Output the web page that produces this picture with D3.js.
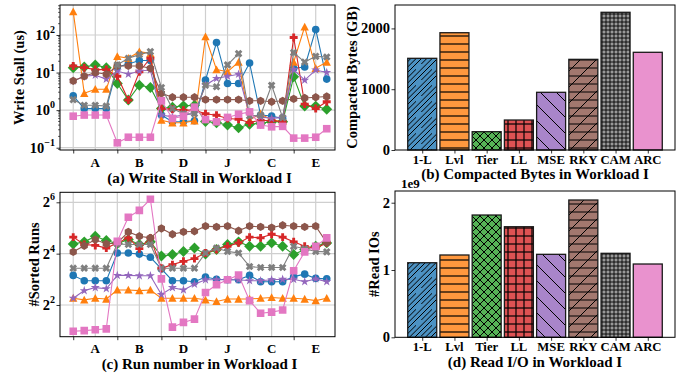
<!DOCTYPE html>
<html><head><meta charset="utf-8">
<script src="https://cdn.jsdelivr.net/npm/d3@7"></script>
<style>
body{margin:0;background:#fff}
text{font-family:"Liberation Serif","Times New Roman",serif;font-weight:bold;fill:#000}
</style>
</head><body>
<svg id="chart" width="679" height="377"></svg>
<script>
// ---------------- DATA ----------------
const workloads = ["A","B","D","J","C","E"];
const policies = ["1-L","Lvl","Tier","LL","MSE","RKY","CAM","ARC"];
const lineColors = ["#1f77b4","#ff7f0e","#2ca02c","#d62728","#9467bd","#8c564b","#7f7f7f","#e377c2"];
const barColors  = ["#4c92c3","#ff983e","#56b356","#de5253","#a985ca","#a3786f","#999999","#e992ce"];
const markerTypes = ["circle","triangle","diamond","plus","star","hexagon","x","square"];

// (a) write stall (us), 24 runs per policy
const stall1L   = [2.4,1.1,1.1,1.1,14,17,21,21,0.74,0.49,0.5,0.52,6.3,63,5.1,5.1,18,0.74,0.7,0.6,13,14,140,6.7];
const stallLvl  = [420,2.8,3.6,3.6,27,24,36,32,0.54,0.46,0.46,0.52,90,12,10.5,19,0.55,0.8,0.55,0.5,19,165,13,19];
const stallTier = [13.5,14,16,13.5,5.1,1.85,4.6,4,1.1,1.2,1.3,1.35,0.5,0.46,0.4,0.34,0.42,0.45,0.49,0.49,7.7,1.28,1.28,1.05];
const stallLL   = [15,13.5,12,12,8,1.85,10.5,24,1.1,1.05,1.0,1.0,0.8,0.73,0.6,0.57,0.47,0.54,0.52,0.49,86,1.45,1.1,1.67];
const stallMSE  = [6,8,8.5,6.7,11,9,11,11.7,0.74,0.66,0.74,0.8,4.6,7,8,9,0.74,0.66,0.6,0.64,12,6.3,11.7,10];
const stallRKY  = [6,8,10,9,15,15,15,13,2.8,2.2,2.2,2.2,1.9,1.9,1.9,1.9,1.77,1.77,1.67,1.77,2,2.1,2.2,2.3];
const stallCAM  = [1.9,1.35,1.35,1.28,16,24,30,36,4,1.1,0.8,0.8,4.6,4.2,16,32,0.7,0.73,4.6,0.63,34,19,27,26];
const stallARC  = [0.69,0.74,0.74,0.74,0.135,0.19,0.19,0.19,1.77,0.6,0.69,1.2,0.56,0.49,0.64,0.78,0.9,0.4,0.36,0.37,0.18,0.18,0.19,0.32];

// (c) number of sorted runs
const runs1L   = [8.9,7.7,7.7,7.7,16.3,16.3,15.8,14.5,10.6,7.7,7.7,7.5,8.5,8,7.9,7.9,8.9,7.5,7.5,7.5,8.6,9.2,8.2,8.1];
const runsLvl  = [4.8,4.6,4.8,4.7,6.0,6.0,5.9,6.0,4.8,4.8,4.8,4.8,4.6,4.4,4.7,4.7,4.7,4.8,4.9,4.8,4.8,4.7,4.5,4.8];
const runsTier = [20.8,22,25.6,22.8,21,23.4,20.5,22,15,15.6,17,18.6,15.8,17.9,20.5,22,19.5,19.5,21.4,19.5,15.6,17.9,19.5,21.4];
const runsLL   = [25,20.5,20,18.6,21.4,24.5,18.3,24.5,10.8,11.9,13,14,16.3,17.9,19.5,21.4,25,24.5,27,25,22,19.5,18.6,21.4];
const runsMSE  = [4.8,5.9,6.4,6.2,8.9,8.9,8.8,8.8,5.3,6.4,6.0,7.0,7.9,7.9,7.9,7.9,7.7,7.7,7.9,8,8,7.5,8.1,7.5];
const runsRKY  = [16.8,19.8,23.4,20.8,21.4,28.8,25.6,24.5,31.6,27,28.8,29.3,33.6,33,33.6,29.7,33.6,33,32.3,34.4,33.6,33,33.6,21.5];
const runsCAM  = [10.8,10.8,10.8,10.8,20.8,20.5,20.5,20.5,10.8,10.8,10.8,10.8,16.3,18.6,17,16.3,11.3,11,11,11,19.5,18.3,17,16.8];
const runsARC  = [1.97,2.0,2.05,2.1,22.3,42.8,51.5,69.5,8.1,2.2,2.5,2.73,5.6,6.9,7.9,9.0,4.5,3.2,3.3,3.5,10.1,16.8,19.5,24.5];

// (b) compacted bytes (GB), (d) read IOs
const compactedBytes = [1508,1929,301,493,949,1491,2265,1607];
const readIOs = [1.108e9,1.223e9,1.817e9,1.643e9,1.233e9,2.04e9,1.248e9,1.089e9];

// tick values
const stallTicks = [0.1,1,10,100];
const runsTicks = [4,16,64];
const bytesTicks = [0,1000,2000];
const readTicks = [0,1e9,2e9];

const stallSeries = [stall1L,stallLvl,stallTier,stallLL,stallMSE,stallRKY,stallCAM,stallARC];
const runsSeries  = [runs1L,runsLvl,runsTier,runsLL,runsMSE,runsRKY,runsCAM,runsARC];

// ---------------- DRAWING ----------------
const svg = d3.select("#chart");
const defs = svg.append("defs");
const GRID = "#cfcfcf";
const TITLE_FS = 15, YLABEL_FS = 14.5, TICK_FS = 14.5, XLAB_FS = 12.7;

const MS = 7.6;
function markerPath(type, ms) {
  const h = ms/2;
  const poly = pts => "M" + pts.map(p => p[0].toFixed(2)+","+p[1].toFixed(2)).join("L") + "Z";
  switch (type) {
    case "circle": return d3.symbol(d3.symbolCircle, Math.PI*h*h)();
    case "square": return poly([[-h,-h],[h,-h],[h,h],[-h,h]]);
    case "triangle": return poly([[0,-h*1.1],[h*1.1,h*0.95],[-h*1.1,h*0.95]]);
    case "diamond": { const d = ms*0.72; return poly([[0,-d],[d,0],[0,d],[-d,0]]); }
    case "plus": { const a = h*1.05, t = h*0.38; return poly([[-t,-a],[t,-a],[t,-t],[a,-t],[a,t],[t,t],[t,a],[-t,a],[-t,t],[-a,t],[-a,-t],[-t,-t]]); }
    case "x": { const a = h*1.05, t = h*0.38; const pts = [[-t,-a],[t,-a],[t,-t],[a,-t],[a,t],[t,t],[t,a],[-t,a],[-t,t],[-a,t],[-a,-t],[-t,-t]];
      const c = Math.cos(Math.PI/4), s = Math.sin(Math.PI/4);
      return poly(pts.map(p => [p[0]*c - p[1]*s, p[0]*s + p[1]*c])); }
    case "star": { const R = h*1.25, r = R*0.3819; const pts=[];
      for (let i=0;i<10;i++){ const ang = -Math.PI/2 + i*Math.PI/5; const rr = i%2===0?R:r; pts.push([rr*Math.cos(ang), rr*Math.sin(ang)]); }
      return poly(pts); }
    case "hexagon": { const R = h*1.1; const pts=[];
      for (let i=0;i<6;i++){ const ang = -Math.PI/2 + i*Math.PI/3; pts.push([R*Math.cos(ang), R*Math.sin(ang)]); }
      return poly(pts); }
  }
}

function yLabel(g, o) {
  // o.ylx is the visual centre of the rotated label; shift baseline accordingly
  g.append("text").attr("transform", `translate(${o.ylx + YLABEL_FS*0.36},${(o.top+o.bottom)/2}) rotate(-90)`)
    .attr("text-anchor", "middle").attr("font-size", YLABEL_FS).text(o.ylabel);
}

function linePanel(o) {
  const g = svg.append("g");
  const x = d3.scaleLinear().domain([-1.2, 23.75]).range([o.left, o.right]);
  const y = d3.scaleLog().base(o.base).domain(o.ydom).range([o.bottom, o.top]);
  const clipId = "clip" + o.id;
  defs.append("clipPath").attr("id", clipId).append("rect")
    .attr("x", o.left).attr("y", o.top).attr("width", o.right-o.left).attr("height", o.bottom-o.top);

  const gridX = d3.range(0, 24, 2);
  g.append("g").selectAll("line").data(gridX).join("line")
    .attr("x1", d => x(d)).attr("x2", d => x(d)).attr("y1", o.top).attr("y2", o.bottom)
    .attr("stroke", GRID).attr("stroke-width", 1.2);
  g.append("g").selectAll("line").data(o.yticks).join("line")
    .attr("x1", o.left).attr("x2", o.right).attr("y1", d => y(d)).attr("y2", d => y(d))
    .attr("stroke", GRID).attr("stroke-width", 1.2);

  const xAxis = d3.axisBottom(x).tickValues(d3.range(0, 24, 4)).tickSize(3.5).tickFormat("");
  const xa = g.append("g").attr("transform", `translate(0,${o.bottom})`).call(xAxis);
  xa.select(".domain").remove();
  xa.selectAll("line").attr("stroke", "#000").attr("stroke-width", 0.8);
  g.append("g").selectAll("text").data(workloads).join("text")
    .attr("x", (d,i) => x(i*4+2)).attr("y", o.bottom + 16.5)
    .attr("text-anchor", "middle").attr("font-size", 13).text(d => d);

  const yAxis = d3.axisLeft(y).tickValues(o.yticks).tickSize(3.5).tickFormat("");
  const ya = g.append("g").attr("transform", `translate(${o.left},0)`).call(yAxis);
  ya.select(".domain").remove();
  ya.selectAll("line").attr("stroke", "#000").attr("stroke-width", 0.8);
  if (o.minor) {
    g.append("g").selectAll("line").data(o.minor.filter(v => v >= o.ydom[0] && v <= o.ydom[1])).join("line")
      .attr("x1", o.left-2).attr("x2", o.left).attr("y1", d => y(d)).attr("y2", d => y(d))
      .attr("stroke", "#000").attr("stroke-width", 0.6);
  }
  const tl = g.append("g").selectAll("text").data(o.yticks).join("text")
    .attr("x", o.left - 5).attr("y", d => y(d) + 5).attr("text-anchor", "end");
  tl.each(function(d) {
    const t = d3.select(this);
    const e = Math.round(Math.log(d)/Math.log(o.base));
    t.append("tspan").attr("font-size", TICK_FS).text(String(o.base));
    t.append("tspan").attr("font-size", 10).attr("dy", -7).text(e < 0 ? "\u2212" + (-e) : String(e));
  });

  const pg = g.append("g").attr("clip-path", `url(#${clipId})`);
  const line = d3.line().x((d,i) => x(i)).y(d => y(d));
  o.series.forEach((s, k) => {
    pg.append("path").attr("d", line(s)).attr("fill", "none")
      .attr("stroke", lineColors[k]).attr("stroke-width", 1.1);
    pg.append("g").selectAll("path").data(s).join("path")
      .attr("d", markerPath(markerTypes[k], MS))
      .attr("transform", (d,i) => `translate(${x(i)},${y(d)})`)
      .attr("fill", lineColors[k]);
  });

  g.append("rect").attr("x", o.left).attr("y", o.top).attr("width", o.right-o.left).attr("height", o.bottom-o.top)
    .attr("fill", "none").attr("stroke", "#000").attr("stroke-width", 1);

  yLabel(g, o);
  g.append("text").attr("x", (o.left+o.right)/2 + 2).attr("y", o.titleY)
    .attr("text-anchor", "middle").attr("font-size", TITLE_FS).text(o.title);
}

const stallMinor = [];
[0.01,0.1,1,10,100].forEach(b => { for (let m=2;m<=9;m++) stallMinor.push(b*m); });

linePanel({id:"a", left:60, right:335, top:5, bottom:150, base:10,
  ydom:[Math.pow(10,-1.061), Math.pow(10,2.798)], yticks:stallTicks, minor:stallMinor,
  series:stallSeries, ylabel:"Write Stall (us)", ylx:18.5, title:"(a) Write Stall in Workload I", titleY:182.5});
linePanel({id:"c", left:60, right:335, top:192.3, bottom:336.7, base:2,
  ydom:[Math.pow(2,0.765), Math.pow(2,6.39)], yticks:runsTicks, minor:null,
  series:runsSeries, ylabel:"#Sorted Runs", ylx:33.5, title:"(c) Run number in Workload I", titleY:369});

function makePattern(id, color, spec) {
  const s = spec.size;
  const p = defs.append("pattern").attr("id", id).attr("patternUnits", "userSpaceOnUse")
    .attr("width", s).attr("height", s);
  p.append("rect").attr("width", s).attr("height", s).attr("fill", color);
  const L = (x1,y1,x2,y2) => p.append("line").attr("x1",x1).attr("y1",y1).attr("x2",x2).attr("y2",y2)
    .attr("stroke", "#000").attr("stroke-width", spec.w || 1);
  (spec.kinds || []).forEach(k => {
    const n = k.n, d = s/n;
    if (k.t === "/")  for (let i=-1;i<=n;i++) L(i*d, s, i*d + s, 0);
    if (k.t === "\\") for (let i=-1;i<=n;i++) L(i*d, 0, i*d + s, s);
    if (k.t === "-")  for (let i=0;i<n;i++) L(0, d/2 + i*d, s, d/2 + i*d);
    if (k.t === "|")  for (let i=0;i<n;i++) L(d/2 + i*d, 0, d/2 + i*d, s);
  });
  return `url(#${id})`;
}
const hatchSpecs = [
  {size:16, kinds:[{t:"/",n:3}]},
  {size:16, kinds:[{t:"-",n:2}], w:1.2},
  {size:16, kinds:[{t:"/",n:2},{t:"\\",n:2}]},
  {size:16, kinds:[{t:"-",n:2},{t:"|",n:2}], w:1.2},
  {size:16, kinds:[{t:"\\",n:1}]},
  {size:16, kinds:[{t:"/",n:1},{t:"-",n:2}]},
  {size:16, kinds:[{t:"-",n:4},{t:"|",n:4}], w:0.9},
  {size:16, kinds:[]}
];

function barPanel(o) {
  const g = svg.append("g");
  const x = d3.scaleLinear().domain([-0.845, 7.845]).range([o.left, o.right]);
  const y = d3.scaleLinear().domain(o.ydom).range([o.bottom, o.top]);
  const bw = x(0.9) - x(0);
  const fills = policies.map((p,i) => makePattern(`h${o.id}${i}`, barColors[i], hatchSpecs[i]));
  g.append("g").selectAll("rect").data(o.values).join("rect")
    .attr("x", (d,i) => x(i) - bw/2).attr("y", d => y(d))
    .attr("width", bw).attr("height", d => y(0) - y(d))
    .attr("fill", (d,i) => fills[i]).attr("stroke", "#1a1a1a").attr("stroke-width", 1.3);

  const xAxis = d3.axisBottom(x).tickValues(d3.range(8)).tickSize(3.5).tickFormat("");
  const xa = g.append("g").attr("transform", `translate(0,${o.bottom})`).call(xAxis);
  xa.select(".domain").remove();
  xa.selectAll("line").attr("stroke", "#000").attr("stroke-width", 0.8);
  g.append("g").selectAll("text").data(policies).join("text")
    .attr("x", (d,i) => x(i)).attr("y", o.bottom + 14)
    .attr("text-anchor", "middle").attr("font-size", XLAB_FS).text(d => d);

  const yAxis = d3.axisLeft(y).tickValues(o.yticks).tickSize(3.5).tickFormat("");
  const ya = g.append("g").attr("transform", `translate(${o.left},0)`).call(yAxis);
  ya.select(".domain").remove();
  ya.selectAll("line").attr("stroke", "#000").attr("stroke-width", 0.8);
  g.append("g").selectAll("text").data(o.yticks).join("text")
    .attr("x", o.left - 5).attr("y", d => y(d) + 5).attr("text-anchor", "end")
    .attr("font-size", TICK_FS).text(o.fmt);

  g.append("rect").attr("x", o.left).attr("y", o.top).attr("width", o.right-o.left).attr("height", o.bottom-o.top)
    .attr("fill", "none").attr("stroke", "#000").attr("stroke-width", 1);

  yLabel(g, o);
  g.append("text").attr("x", (o.left+o.right)/2).attr("y", o.titleY)
    .attr("text-anchor", "middle").attr("font-size", TITLE_FS).text(o.title);
  if (o.offset) g.append("text").attr("x", o.left + 6).attr("y", o.top - 3).attr("font-size", 13).text(o.offset);
}

barPanel({id:"b", left:395, right:675, top:5, bottom:150, ydom:[0,2385], yticks:bytesTicks,
  values:compactedBytes, fmt:d => String(d), ylabel:"Compacted Bytes (GB)", ylx:352,
  title:"(b) Compacted Bytes in Workload I", titleY:179});
barPanel({id:"d", left:395, right:675, top:191, bottom:337.3, ydom:[0,2.174e9], yticks:readTicks,
  values:readIOs, fmt:d => String(d/1e9), ylabel:"#Read IOs", ylx:374,
  title:"(d) Read I/O in Workload I", titleY:366.5, offset:"1e9"});
</script>
</body></html>
